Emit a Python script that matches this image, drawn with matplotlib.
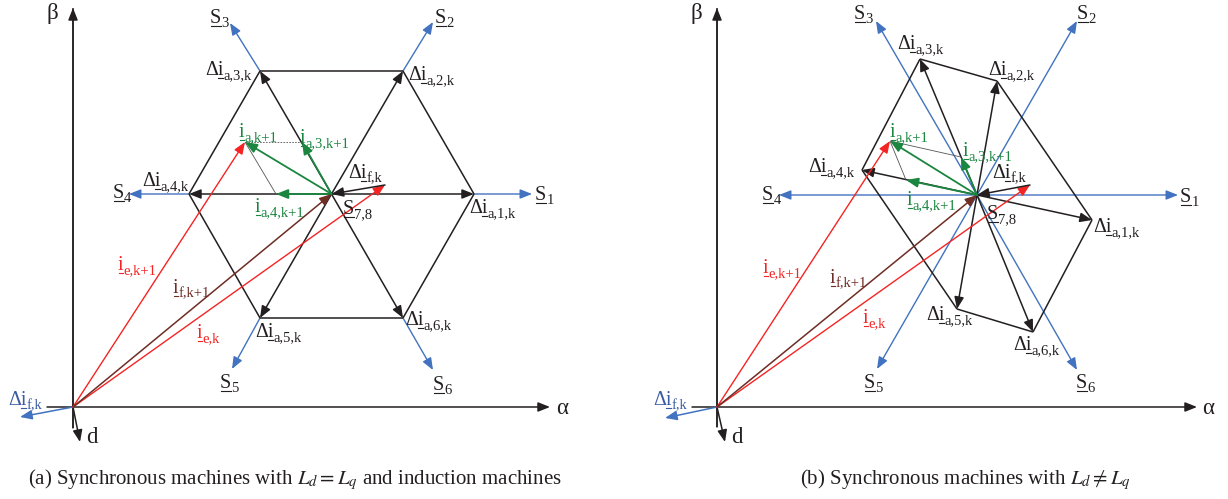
import matplotlib
matplotlib.use("Agg")
import matplotlib.pyplot as plt

# ---------------- data (pixel-space diagram coordinates) ----------------
W, H = 1228, 499
FONT = "Liberation Serif"
MAIN, SUB = 14.5, 10.5

C_TXT = "#231f20"
C_BLUE = "#4273c0"
C_BLUE_T = "#3b5ba5"
C_RED = "#f52424"
C_GREEN = "#1b8640"
C_BROWN = "#6e2d25"
C_GRAY = "#555555"

# panel (a)
a_origin = (73, 407)
a_center = (331.5, 194)
a_hex = [(474, 194), (403, 71), (260, 71), (189, 194), (260, 318), (403, 318)]
a_stips = [(532, 194), (433, 22), (230, 23), (129, 194), (232, 369), (433, 370)]
a_ia = (245, 142)
a_ia3 = (302, 142)
a_ia4 = (276, 194)
a_iek = (385, 185)
a_beta_top = (73, 8)
a_beta_bot = (73, 428)
a_alpha_l = (47, 407)
a_alpha_r = (550, 407)
a_d = (80, 442)
a_dif = (20, 417)

# panel (b)
b_origin = (717, 407)
b_center = (977, 195)
b_hex = [(1092, 220), (997, 81), (920, 59), (862, 170), (957, 309), (1033, 332)]
b_stips = [(1178, 195), (1077, 21), (876, 21), (779, 195), (877, 369), (1077, 370)]
b_ia = (890, 141)
b_ia3 = (961, 157)
b_ia4 = (906, 180)
b_iek = (1030, 185)
b_beta_top = (717, 8)
b_beta_bot = (717, 427)
b_alpha_l = (692, 407)
b_alpha_r = (1197, 407)
b_d = (725, 442)
b_dif = (665, 418)

# labels: (x_left, baseline_y, prefix, underlined base, subscript, color)
a_labels = [
    (205, 75, "Δ", "i", "a,3,k", C_TXT), (408, 80, "Δ", "i", "a,2,k", C_TXT),
    (142, 186, "Δ", "i", "a,4,k", C_TXT), (469, 213, "Δ", "i", "a,1,k", C_TXT),
    (255, 337, "Δ", "i", "a,5,k", C_TXT), (405, 325, "Δ", "i", "a,6,k", C_TXT),
    (348, 178, "Δ", "i", "f,k", C_TXT), (343, 214, "", "S", "7,8", C_TXT),
    (239, 137, "", "i", "a,k+1", C_GREEN), (300, 143, "", "i", "a,3,k+1", C_GREEN),
    (255, 212, "", "i", "a,4,k+1", C_GREEN), (118, 270, "", "i", "e,k+1", C_RED),
    (173, 293, "", "i", "f,k+1", C_BROWN), (197, 338, "", "i", "e,k", C_RED),
    (535, 200, "", "S", "1", C_TXT), (435, 23, "", "S", "2", C_TXT),
    (210, 23, "", "S", "3", C_TXT), (113, 198, "", "S", "4", C_TXT),
    (220, 388, "", "S", "5", C_TXT), (433, 390, "", "S", "6", C_TXT),
    (8, 405, "Δ", "i", "f,k", C_BLUE_T),
]
b_labels = [
    (897, 49, "Δ", "i", "a,3,k", C_TXT), (988, 75, "Δ", "i", "a,2,k", C_TXT),
    (808, 172, "Δ", "i", "a,4,k", C_TXT), (1093, 232, "Δ", "i", "a,1,k", C_TXT),
    (926, 320, "Δ", "i", "a,5,k", C_TXT), (1013, 350, "Δ", "i", "a,6,k", C_TXT),
    (992, 178, "Δ", "i", "f,k", C_TXT), (987, 219, "", "S", "7,8", C_TXT),
    (890, 137, "", "i", "a,k+1", C_GREEN), (963, 156, "", "i", "a,3,k+1", C_GREEN),
    (907, 205, "", "i", "a,4,k+1", C_GREEN), (763, 273, "", "i", "e,k+1", C_RED),
    (830, 283, "", "i", "f,k+1", C_BROWN), (863, 323, "", "i", "e,k", C_RED),
    (1180, 202, "", "S", "1", C_TXT), (1077, 19, "", "S", "2", C_TXT),
    (854, 19, "", "S", "3", C_TXT), (762, 200, "", "S", "4", C_TXT),
    (864, 388, "", "S", "5", C_TXT), (1076, 388, "", "S", "6", C_TXT),
    (653, 405, "Δ", "i", "f,k", C_BLUE_T),
]
plain_labels = [
    (47, 19, "β"), (556, 414, "α"), (86, 443, "d"),
    (691, 19, "β"), (1202, 414, "α"), (731, 443, "d"),
]
captions = [
    (295, 484, r"(a) Synchronous machines with $L_d = L_q$ and induction machines"),
    (965, 484, r"(b) Synchronous machines with $L_d \neq L_q$"),
]

# ---------------- drawing ----------------
plt.rcParams["font.family"] = [FONT, "DejaVu Serif"]
plt.rcParams["mathtext.fontset"] = "stix"

fig = plt.figure(figsize=(W / 100, H / 100), dpi=100)
ax = fig.add_axes([0, 0, 1, 1])
ax.set_xlim(0, W)
ax.set_ylim(H, 0)
ax.axis("off")
renderer = fig.canvas.get_renderer()

AST = "-|>,head_length=0.55,head_width=0.22"


def arrow(tail, tip, color, lw=1.0, z=3, ms=13):
    ax.annotate("", xy=tip, xytext=tail,
                arrowprops=dict(arrowstyle=AST, color=color, lw=lw,
                                shrinkA=0, shrinkB=0, mutation_scale=ms),
                zorder=z)


def line(p, q, color, lw=1.0, ls="-", z=2):
    ax.plot([p[0], q[0]], [p[1], q[1]], color=color, lw=lw, ls=ls, zorder=z,
            solid_capstyle="butt")


def tw(s, size):
    if not s:
        return 0.0
    t = ax.text(0, 0, s, fontsize=size)
    w = t.get_window_extent(renderer=renderer).width
    t.remove()
    return w


def vlabel(x, y, pre, base, sub, color):
    w_pre = tw(pre, MAIN)
    w_all = tw(pre + base, MAIN)
    ax.text(x, y, pre + base, fontsize=MAIN, color=color, va="baseline",
            ha="left", zorder=6)
    ax.plot([x + w_pre + 0.5, x + w_all - 0.5], [y + 2.5, y + 2.5],
            color=color, lw=0.8, zorder=6)
    ax.text(x + w_all, y + 4, sub, fontsize=SUB, color=color,
            va="baseline", ha="left", zorder=6)


def panel(origin, center, hexv, stips, ia, ia3, ia4, iek, btop, bbot,
          al, ar, dtip, dif, full_s, dashed):
    # axes
    line(bbot, btop, C_TXT, lw=1.1)
    arrow(bbot, btop, C_TXT, lw=1.1)
    arrow(al, ar, C_TXT, lw=1.1)
    arrow(origin, dtip, C_TXT, lw=1.1)
    arrow(origin, dif, C_BLUE, lw=1.1)
    # S vectors
    for i, tip in enumerate(stips):
        start = center if full_s else hexv[i]
        arrow(start, tip, C_BLUE, lw=1.0, z=2)
    # hexagon
    for i in range(6):
        line(hexv[i], hexv[(i + 1) % 6], C_TXT, lw=1.1, z=3)
    for v in hexv:
        arrow(center, v, C_TXT, lw=1.1, z=3)
    # construction lines
    line(ia, ia3, C_GRAY, lw=0.6, ls=(0, (2, 1.5)) if dashed else "-", z=3)
    line(ia, ia4, C_GRAY, lw=0.6, z=3)
    # green
    for tip in (ia, ia3, ia4):
        arrow(center, tip, C_GREEN, lw=1.3, z=4)
    # currents
    arrow(origin, ia, C_RED, lw=1.0, z=4)
    arrow(origin, iek, C_RED, lw=1.0, z=4)
    arrow(origin, center, C_BROWN, lw=1.1, z=4)
    arrow(iek, center, C_TXT, lw=1.1, z=5)


panel(a_origin, a_center, a_hex, a_stips, a_ia, a_ia3, a_ia4, a_iek,
      a_beta_top, a_beta_bot, a_alpha_l, a_alpha_r, a_d, a_dif, False, True)
panel(b_origin, b_center, b_hex, b_stips, b_ia, b_ia3, b_ia4, b_iek,
      b_beta_top, b_beta_bot, b_alpha_l, b_alpha_r, b_d, b_dif, True, False)

for lab in a_labels + b_labels:
    vlabel(*lab)
for x, y, s in plain_labels:
    ax.text(x, y, s, fontsize=MAIN + 2, color=C_TXT, va="baseline", ha="left")
for x, y, s in captions:
    ax.text(x, y, s, fontsize=15, color=C_TXT, va="baseline", ha="center")

fig.savefig("out.png", dpi=100)
